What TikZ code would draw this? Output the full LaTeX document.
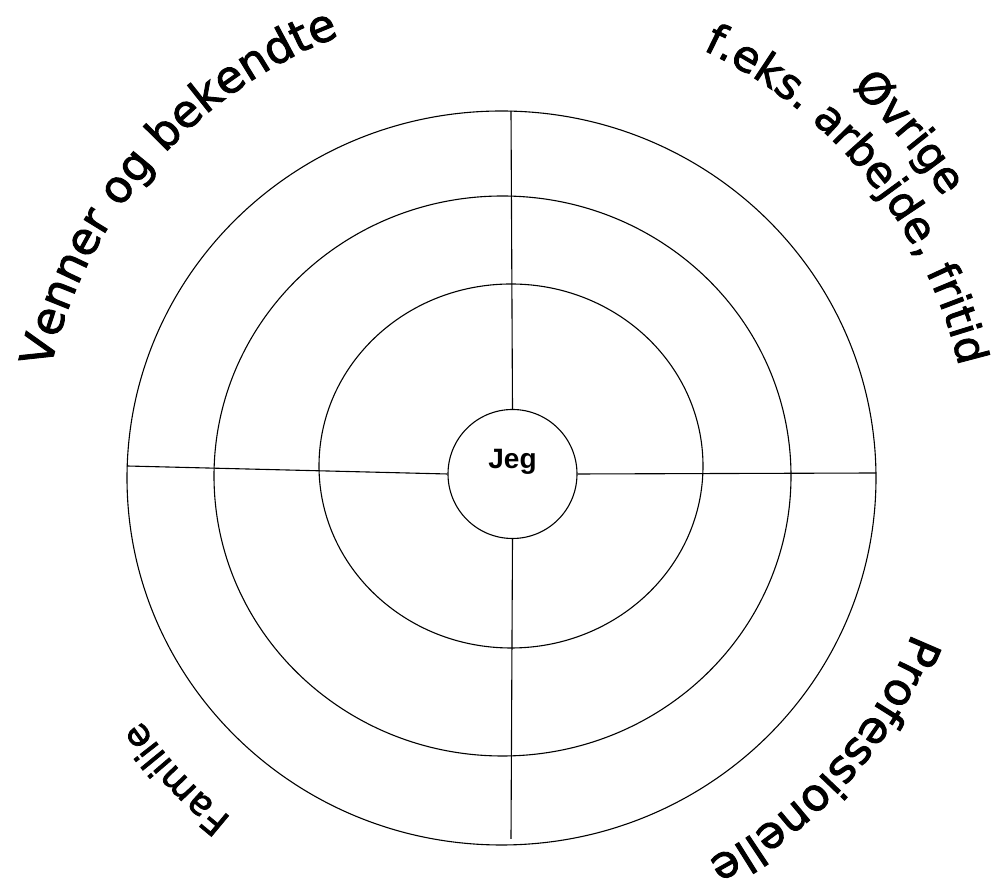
\documentclass[tikz,border=0pt]{standalone}
\usepackage{fontspec}
\setmainfont{DejaVu Sans}
\newfontfamily\lblfont[FakeBold=2]{DejaVu Sans}
\newfontfamily\jegfont{Liberation Sans}
\usetikzlibrary{decorations.text}
\newcommand\lblbig{\lblfont\fontsize{45}{50}\selectfont}
\newcommand\lblmid{\lblfont\fontsize{43}{48}\selectfont}
\newcommand\lblsmall{\lblfont\fontsize{37}{42}\selectfont}

\begin{document}
\begin{tikzpicture}[x=1pt,y=1pt,line width=1.1pt,
   arctext/.style={decorate,decoration={text along path,text align=center,text={#1}}}]
   \useasboundingbox (0,0) rectangle (997,894);
   \coordinate (c) at (505,422);
   % rings
   \draw (511,428) ellipse[x radius=192,y radius=182];
   \draw (502.5,418) ellipse[x radius=288.5,y radius=280];
   \draw (501.5,416) ellipse[x radius=374.5,y radius=367];
   \node[circle,draw,minimum size=129pt,inner sep=0pt] (jeg) at (512.5,420) {};
   \node (jegtext) at ([yshift=12pt]jeg.center) {\jegfont\bfseries\fontsize{28}{32}\selectfont Jeg};
   % spokes
   \coordinate (top)   at (511,783);
   \coordinate (bot)   at (511,55);
   \coordinate (left)  at (127,428);
   \coordinate (right) at (876,421);
   \draw (top) -- (jeg.north);
   \draw (jeg.south) -- (bot);
   \draw (left) -- (jeg.west);
   \draw (jeg.east) -- (right);
   % labels
   \path[arctext={|\lblbig|Venner og bekendte}]
      ([shift={(184:466)}]c) arc[start angle=184,end angle=94,radius=466];
   \path[arctext={|\lblmid|Øvrige}]
      ([shift={(85:517)}]c) arc[start angle=85,end angle=-5,radius=517];
   \path[arctext={|\lblmid|f.eks. arbejde, fritid}]
      ([shift={(84:466)}]c) arc[start angle=84,end angle=-6,radius=466];
   \path[arctext={|\lblbig|Professionelle}]
      ([shift={(3:438)}]c) arc[start angle=3,end angle=-87,radius=438];
   \path[arctext={|\lblsmall|Familie}]
      ([shift={(268:441)}]c) arc[start angle=268,end angle=178,radius=441];
\end{tikzpicture}
\end{document}
